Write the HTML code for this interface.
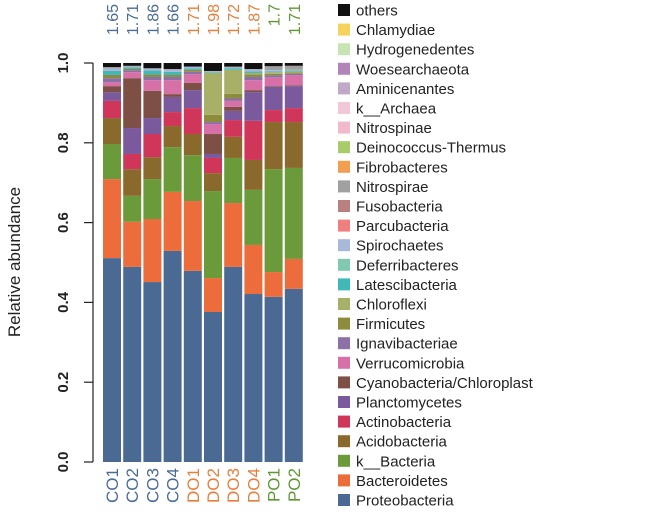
<!DOCTYPE html>
<html><head><meta charset="utf-8"><style>
body{margin:0;background:#fff;}
svg{display:block;font-family:"Liberation Sans",sans-serif;}
</style></head><body>
<svg id="chart" width="645" height="519" viewBox="0 0 645 519">
<text transform="translate(20,262) rotate(-90)" text-anchor="middle" font-size="17" fill="#222">Relative abundance</text>
<g id="bars"></g>
<g id="axis"></g>
<g id="xlabels"></g>
<g id="toplabels"></g>
<g id="legend"></g>
</svg>
<script>
const samples=["CO1","CO2","CO3","CO4","DO1","DO2","DO3","DO4","PO1","PO2"];
const diversity=["1.65","1.71","1.86","1.66","1.71","1.98","1.72","1.87","1.7","1.71"];
const yTicks=[0,0.2,0.4,0.6,0.8,1.0];
const yTickLabels=["0.0","0.2","0.4","0.6","0.8","1.0"];
const proteo=[.511,.489,.451,.529,.479,.376,.489,.421,.414,.434];
const bacteroid=[.198,.113,.158,.148,.175,.085,.160,.123,.062,.075];
const kBact=[.088,.065,.100,.112,.115,.218,.113,.138,.258,.228];
const acido=[.065,.067,.055,.053,.053,.045,.053,.075,.118,.115];
const actino=[.043,.038,.058,.035,.065,.038,.042,.098,.030,.035];
const plancto=[.022,.065,.040,.038,.045,.010,.023,.072,.058,.055];
const cyano=[.015,.125,.068,.007,.018,.050,.010,.005,.002,.002];
const verruco=[.010,.015,.027,.035,.022,.025,.015,.025,.022,.025];
const ignavi=[.010,.005,.008,.008,.006,.005,.006,.008,.005,.004];
const firmi=[.008,.003,.006,.005,.005,.018,.012,.006,.004,.003];
const chloro=[0,0,0,0,0,.105,.060,.004,.004,.003];
const latesci=[.010,.004,.010,.008,.004,.002,.004,.004,.002,.002];
const spiro=[.006,.002,.004,.005,.004,.002,.002,.004,.003,.002];
const nitro=[.004,.002,.002,.002,0,.001,.002,.002,.010,.010];
const others=[.010,.007,.013,.015,.009,.020,.009,.015,.008,.007];
const series=[["Proteobacteria",proteo,"#4a6a94"],["Bacteroidetes",bacteroid,"#ec6c3c"],["k__Bacteria",kBact,"#6a9a3a"],["Acidobacteria",acido,"#8a6a2c"],["Actinobacteria",actino,"#d0365a"],["Planctomycetes",plancto,"#7a5a9c"],["Cyanobacteria/Chloroplast",cyano,"#7e5045"],["Verrucomicrobia",verruco,"#d870a8"],["Ignavibacteriae",ignavi,"#8c70a8"],["Firmicutes",firmi,"#8c8c3c"],["Chloroflexi",chloro,"#a8b068"],["Latescibacteria",latesci,"#40b8b8"],["Spirochaetes",spiro,"#a8b8d8"],["Nitrospirae",nitro,"#a0a0a0"],["others",others,"#111111"]];
const legendNames=["others","Chlamydiae","Hydrogenedentes","Woesearchaeota","Aminicenantes","k__Archaea","Nitrospinae","Deinococcus-Thermus","Fibrobacteres","Nitrospirae","Fusobacteria","Parcubacteria","Spirochaetes","Deferribacteres","Latescibacteria","Chloroflexi","Firmicutes","Ignavibacteriae","Verrucomicrobia","Cyanobacteria/Chloroplast","Planctomycetes","Actinobacteria","Acidobacteria","k__Bacteria","Bacteroidetes","Proteobacteria"];
const legendColors=["#111111","#f4d35e","#c9e4b4","#b084b8","#c0a8c8","#f0c8d8","#f2b8cc","#a8cc6a","#f0a050","#a0a0a0","#b88080","#f08080","#a8b8d8","#80c8b0","#40b8b8","#a8b068","#8c8c3c","#8c70a8","#d870a8","#7e5045","#7a5a9c","#d0365a","#8a6a2c","#6a9a3a","#ec6c3c","#4a6a94"];
const groupColor={CO:"#4a6c96",DO:"#e97d3a",PO:"#5f9632"};
const NS="http://www.w3.org/2000/svg";
const y0=462,y1=63;
const yScale=v=>y0-(y0-y1)*v;
const xScale=i=>103+i*20.2;
const bw=18;
function mk(tag,parent){const e=document.createElementNS(NS,tag);parent.appendChild(e);return e;}
const bars=document.getElementById('bars');
samples.forEach((s,i)=>{
  let cum=0;
  series.forEach(([name,vals,col])=>{
    const v=vals[i];
    if(v>0){
      const r=mk('rect',bars);
      
      
      r.setAttribute('x',xScale(i));r.setAttribute('width',bw);
      r.setAttribute('y',yScale(cum+v));r.setAttribute('height',yScale(cum)-yScale(cum+v));
      r.setAttribute('fill',col);
    }
    cum+=v;
  });
  const c=groupColor[s.slice(0,2)];
  const xl=mk('text',document.getElementById('xlabels'));
  
  
  xl.setAttribute('transform',`translate(${xScale(i)+bw/2+6},468) rotate(-90)`);
  xl.setAttribute('text-anchor','end');xl.setAttribute('font-size','17');xl.setAttribute('fill',c);
  xl.textContent=s;
  const tl=mk('text',document.getElementById('toplabels'));
  
  
  tl.setAttribute('transform',`translate(${xScale(i)+bw/2+6},4) rotate(-90)`);
  tl.setAttribute('text-anchor','end');tl.setAttribute('font-size','16');tl.setAttribute('fill',c);
  tl.textContent=diversity[i];
});
const ax=document.getElementById('axis');
const al=mk('line',ax);


al.setAttribute('x1',93);al.setAttribute('x2',93);al.setAttribute('y1',yScale(0));al.setAttribute('y2',yScale(1));al.setAttribute('stroke','#222');al.setAttribute('stroke-width','1.2');
yTicks.forEach((t,k)=>{
  const tk=mk('line',ax);
  
  
  tk.setAttribute('x1',84);tk.setAttribute('x2',93);tk.setAttribute('y1',yScale(t));tk.setAttribute('y2',yScale(t));tk.setAttribute('stroke','#222');tk.setAttribute('stroke-width','1.2');
  const lb=mk('text',ax);
  
  
  lb.setAttribute('transform',`translate(68,${yScale(t)}) rotate(-90)`);
  lb.setAttribute('text-anchor','middle');lb.setAttribute('font-size','15');lb.setAttribute('font-weight','bold');lb.setAttribute('fill','#222');
  lb.textContent=yTickLabels[k];
});
const lg=document.getElementById('legend');
legendNames.forEach((n,k)=>{
  const y=10+k*19.6;
  const r=mk('rect',lg);
  
  
  r.setAttribute('x',338);r.setAttribute('y',y-6);r.setAttribute('width',12);r.setAttribute('height',12);r.setAttribute('fill',legendColors[k]);
  const t=mk('text',lg);
  
  
  t.setAttribute('x',356);t.setAttribute('y',y+5.5);t.setAttribute('font-size','15');t.setAttribute('fill','#222');
  t.textContent=n;
});
</script>
</body></html>
